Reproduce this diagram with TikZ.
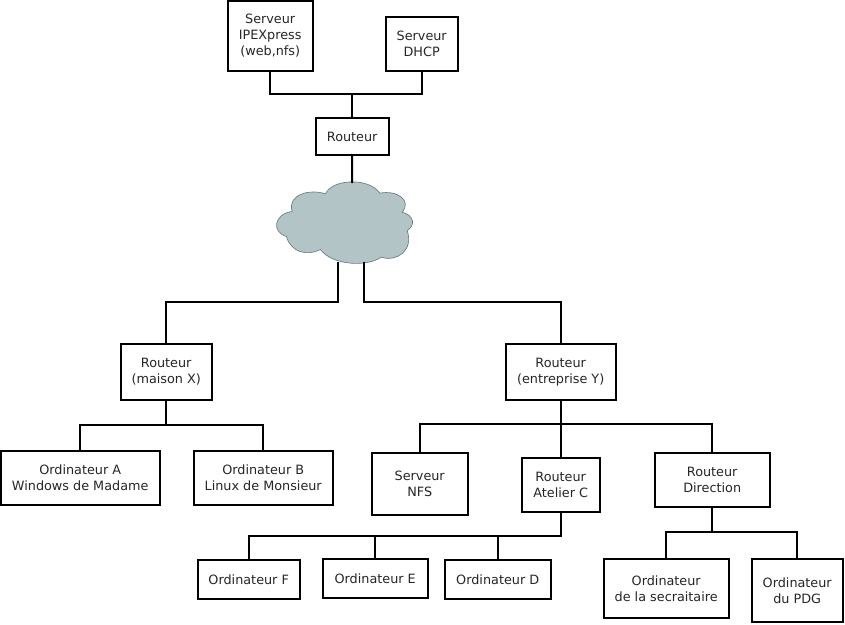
\documentclass[tikz,border=0pt]{standalone}
\usepackage{fontspec}
\setmainfont{DejaVu Sans}
\definecolor{cloudfill}{RGB}{178,196,198}
\definecolor{cloudline}{RGB}{105,125,130}
\tikzset{
  px/.style={x=0.75pt,y=-0.75pt},
  boxn/.style={draw=black,line width=1.5pt,fill=white,align=center,inner sep=0pt,outer sep=0pt,
     font=\fontsize{9.6}{12}\selectfont,text=black!85},
  wire/.style={draw=black,line width=1.5pt,line cap=rect,line join=miter},
}
\newcommand{\bx}[6]{%
  \pgfmathsetmacro{\cxx}{(#2+#4)/2-0.3}\pgfmathsetmacro{\cyy}{(#3+#5)/2}%
  \pgfmathsetmacro{\wdd}{(#4-#2)*0.75}\pgfmathsetmacro{\htt}{(#5-#3)*0.75}%
  \node[boxn,minimum width=\wdd pt,minimum height=\htt pt] (#1) at (\cxx,\cyy) {#6};}
\begin{document}
\begin{tikzpicture}[px]
\useasboundingbox (0,0) rectangle (845,624);
\fill[white] (0,0) rectangle (845,624);
% cloud
\begin{scope}[shift={(260.5,150.5)},x=0.25pt,y=-0.25pt]
\draw[draw=cloudline,line width=0.5pt,fill=cloudfill]
 (195,130) .. controls (215,85) and (325,80) .. (358,128)
 .. controls (410,118) and (455,150) .. (425,185)
 .. controls (462,195) and (465,225) .. (440,240)
 .. controls (460,300) and (410,335) .. (362,320)
 .. controls (320,350) and (215,345) .. (180,297)
 .. controls (140,318) and (90,305) .. (78,258)
 .. controls (32,245) and (40,190) .. (95,183)
 .. controls (80,130) and (150,115) .. (195,130) -- cycle;
\end{scope}
\coordinate (cloudT) at (352,182);
\coordinate (cloudL) at (338,263);
\coordinate (cloudR) at (364,263);
% boxes
\bx{ipe}{228}{1}{313}{71}{Serveur\\IPEXpress\\(web,nfs)}
\bx{dhcp}{386}{17}{458}{71}{Serveur\\DHCP}
\bx{rtop}{316}{118}{389}{155}{Routeur}
\bx{rx}{121}{344}{212}{400}{Routeur\\(maison X)}
\bx{ry}{506}{344}{616}{400}{Routeur\\(entreprise Y)}
\bx{oa}{1}{451}{160}{505}{Ordinateur A\\Windows de Madame}
\bx{ob}{194}{451}{333}{505}{Ordinateur B\\Linux de Monsieur}
\bx{nfs}{372}{453}{468}{515}{Serveur\\NFS}
\bx{atc}{522}{458}{600}{512}{Routeur\\Atelier C}
\bx{dir}{655}{453}{770}{507}{Routeur\\Direction}
\bx{of}{198}{560}{300}{599}{Ordinateur F}
\bx{oe}{323}{559}{428}{598}{Ordinateur E}
\bx{od}{445}{560}{551}{599}{Ordinateur D}
\bx{sec}{604}{559}{729}{618}{Ordinateur\\de la secraitaire}
\bx{pdg}{752}{559}{843}{622}{Ordinateur\\du PDG}
% connectors
\coordinate (b1) at (0,94);
\coordinate (b2) at (0,302);
\coordinate (b3) at (0,425);
\coordinate (b4) at (0,424);
\coordinate (b5) at (0,536);
\coordinate (b6) at (0,532);
\draw[wire] (ipe.south) |- (b1 -| rtop.north) -| (dhcp.south);
\draw[wire] (rtop.north) -- (b1 -| rtop.north);
\draw[wire] (rtop.south) -- (cloudT);
\draw[wire] (cloudL) |- (b2 -| rx.north) -- (rx.north);
\draw[wire] (cloudR) |- (b2 -| ry.north) -- (ry.north);
\draw[wire] (rx.south) -- (b3 -| rx.south);
\draw[wire] (oa.north) |- (b3 -| rx.south) -| (ob.north);
\draw[wire] (ry.south) -- (atc.north);
\draw[wire] (nfs.north) |- (b4 -| ry.south) -| (dir.north);
\draw[wire] (atc.south) |- (b5 -| of.north) -- (of.north);
\draw[wire] (oe.north) -- (b5 -| oe.north);
\draw[wire] (od.north) -- (b5 -| od.north);
\draw[wire] (dir.south) -- (b6 -| dir.south);
\draw[wire] (sec.north) |- (b6 -| dir.south) -| (pdg.north);
\end{tikzpicture}
\end{document}
